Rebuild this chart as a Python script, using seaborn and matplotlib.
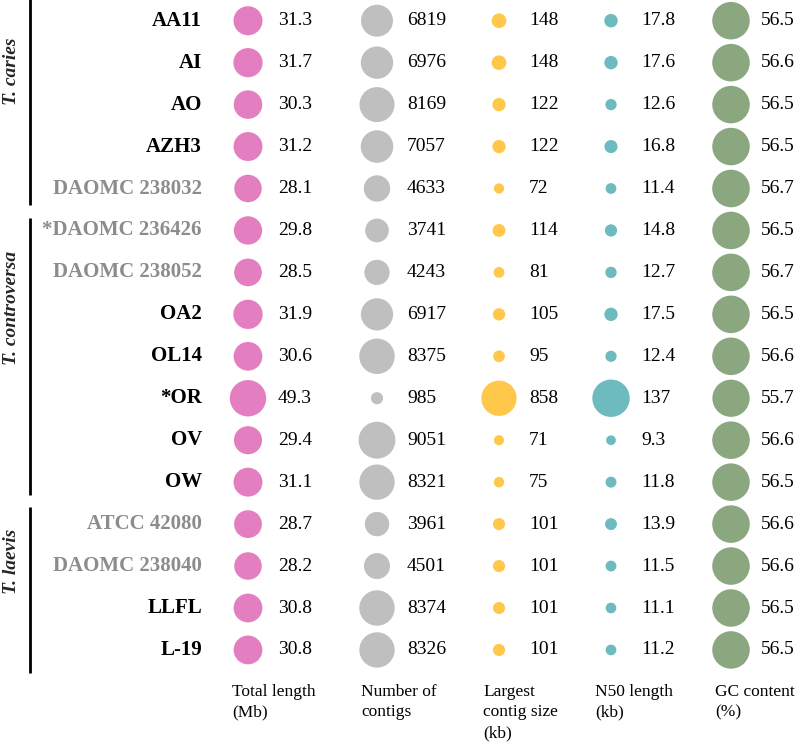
import numpy as np
import pandas as pd
import matplotlib.pyplot as plt
import seaborn as sns

# strain names, top to bottom
strains = ["AA11", "AI", "AO", "AZH3", "DAOMC 238032",
           "*DAOMC 236426", "DAOMC 238052", "OA2", "OL14", "*OR", "OV", "OW",
           "ATCC 42080", "DAOMC 238040", "LLFL", "L-19"]
grey_strains = ["DAOMC 238032", "*DAOMC 236426", "DAOMC 238052",
                "ATCC 42080", "DAOMC 238040"]
species = ["T. caries", "T. controversa", "T. laevis"]

total_length = [31.3, 31.7, 30.3, 31.2, 28.1, 29.8, 28.5, 31.9, 30.6, 49.3, 29.4, 31.1, 28.7, 28.2, 30.8, 30.8]
n_contigs = [6819, 6976, 8169, 7057, 4633, 3741, 4243, 6917, 8375, 985, 9051, 8321, 3961, 4501, 8374, 8326]
largest_contig = [148, 148, 122, 122, 72, 114, 81, 105, 95, 858, 71, 75, 101, 101, 101, 101]
n50_length = [17.8, 17.6, 12.6, 16.8, 11.4, 14.8, 12.7, 17.5, 12.4, 137, 9.3, 11.8, 13.9, 11.5, 11.1, 11.2]
gc_content = [56.5, 56.6, 56.5, 56.5, 56.7, 56.5, 56.7, 56.5, 56.6, 55.7, 56.6, 56.5, 56.6, 56.6, 56.5, 56.5]

headers = ["Total length\n(Mb)", "Number of\ncontigs", "Largest\ncontig size\n(kb)",
           "N50 length\n(kb)", "GC content\n(%)"]

# layout / style
colors = ["#E37FC0", "#BFBFBF", "#FFC84A", "#6EBBBF", "#8BA77F"]
col_x = [248, 377, 499, 611, 731]          # bubble centres (px)
area_per_unit = [26.9, 0.150, 1.45, 10.2, 24.9]  # diameter^2 (px^2) per unit
group_spans = [(-0.55, 4.4), (4.7, 11.3), (11.6, 15.55)]
group_label_y = [1.2, 6.85, 12.9]

sns.set_style("white")
plt.rcParams["font.family"] = ["Liberation Serif", "DejaVu Serif"]

metrics = [total_length, n_contigs, largest_contig, n50_length, gc_content]
rows = np.arange(len(strains))

fig = plt.figure(figsize=(7.97, 7.47), dpi=100)
ax = fig.add_axes([0, 0, 1, 1])

for j, values in enumerate(metrics):
    df = pd.DataFrame({"x": col_x[j], "row": rows, "value": values})
    sizes = 0.5184 * area_per_unit[j] * df["value"].values
    sns.scatterplot(data=df, x="x", y="row", s=sizes, color=colors[j],
                    linewidth=0, ax=ax, legend=False)
    for r, v in zip(rows, values):
        ax.text(col_x[j] + 30, r, f"{v:g}", ha="left", va="center",
                fontsize=14, color="black")
    ax.text(col_x[j] - 16, 15.8, headers[j], ha="left", va="top",
            fontsize=12.5, linespacing=1.4, color="black")

for r, name in zip(rows, strains):
    c = "#8C8C8C" if name in grey_strains else "black"
    ax.text(202, r, name, ha="right", va="center", fontsize=15,
            fontweight="bold", color=c)

for (y0, y1), label, ly in zip(group_spans, species, group_label_y):
    ax.plot([30, 30], [y0, y1], color="black", lw=2, solid_capstyle="butt")
    ax.text(12, ly, label, rotation=90, ha="center", va="center",
            fontsize=14, fontweight="bold", fontstyle="italic")

ax.set_xlim(0, 797)
ax.set_ylim((747 - 20.7) / 41.95, -20.7 / 41.95)
ax.axis("off")

fig.savefig("out.png", dpi=100)
